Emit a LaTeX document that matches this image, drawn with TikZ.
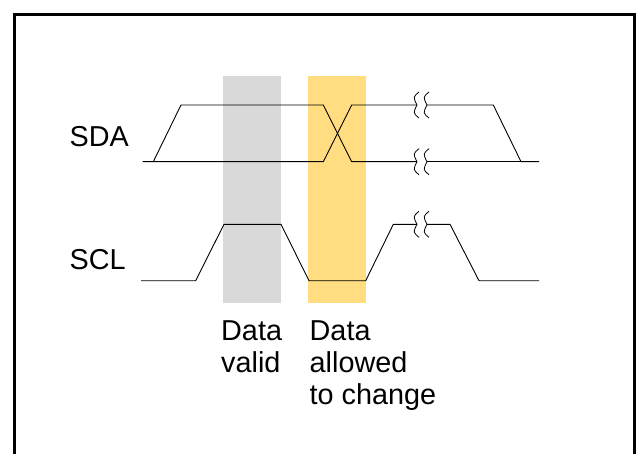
\documentclass[tikz,border=0pt]{standalone}
\usepackage{fontspec}
\setmainfont{Liberation Sans}
\usepackage{tikz}
\usetikzlibrary{calc}
\definecolor{validgray}{HTML}{D9D9D9}
\definecolor{changeyellow}{HTML}{FFDD80}
\tikzstyle{signal}=[line width=0.9pt, line join=miter]
\tikzstyle{brk}=[line width=0.8pt]
\tikzstyle{lbl}=[inner sep=0pt, font=\fontsize{28.8}{32}\selectfont]

\begin{document}
\begin{tikzpicture}[x=1pt, y=-1pt]
\useasboundingbox (0,0) rectangle (636,454);
\clip (0,0) rectangle (636,454);
\draw[line width=3pt] (14.5,14.5) rectangle (634.3,470);
% bands
\fill[validgray] (223.3,75.7) rectangle (281,302.7);
\fill[changeyellow] (308.3,75.7) rectangle (366,302.7);
% SDA
\draw[signal] (142.7,161.7) -- (153.3,161.7) -- (181,105) -- (323.3,105) -- (351.7,161.7) -- (417,161.7);
\draw[signal] (153.3,161.7) -- (323.3,161.7) -- (351.7,105) -- (417,105);
\draw[signal] (427,105) -- (493.3,105) -- (521,161.7) -- (539,161.7);
\draw[signal] (427,161.7) -- (521,161.7);
% SCL
\draw[signal] (141,280.7) -- (195.7,280.7) -- (224,224.3) -- (281,224.3) -- (309,280.7) -- (365.7,280.7) -- (393.3,224.3) -- (417,224.3);
\draw[signal] (427,224.3) -- (450,224.3) -- (479,280.7) -- (539,280.7);
% breaks
\foreach \x in {417,427} {
 \foreach \y in {105,161.7,224.3} {
  \draw[brk] (\x+2,\y-13) .. controls (\x-4,\y-8) .. (\x,\y) .. controls (\x-4,\y+8) .. (\x+2,\y+13);
 }
}
% labels
\node[lbl, anchor=base west] (sda) at (69.5,146.7) {SDA};
\node[lbl, anchor=base west] (scl) at (69.5,269.3) {SCL};
\node[lbl, anchor=north west, align=left] (valid) at (221,320) {Data\\valid};
\node[lbl, anchor=north west, align=left] (change) at (309.5,320) {Data\\allowed\\to change};
\end{tikzpicture}
\end{document}
